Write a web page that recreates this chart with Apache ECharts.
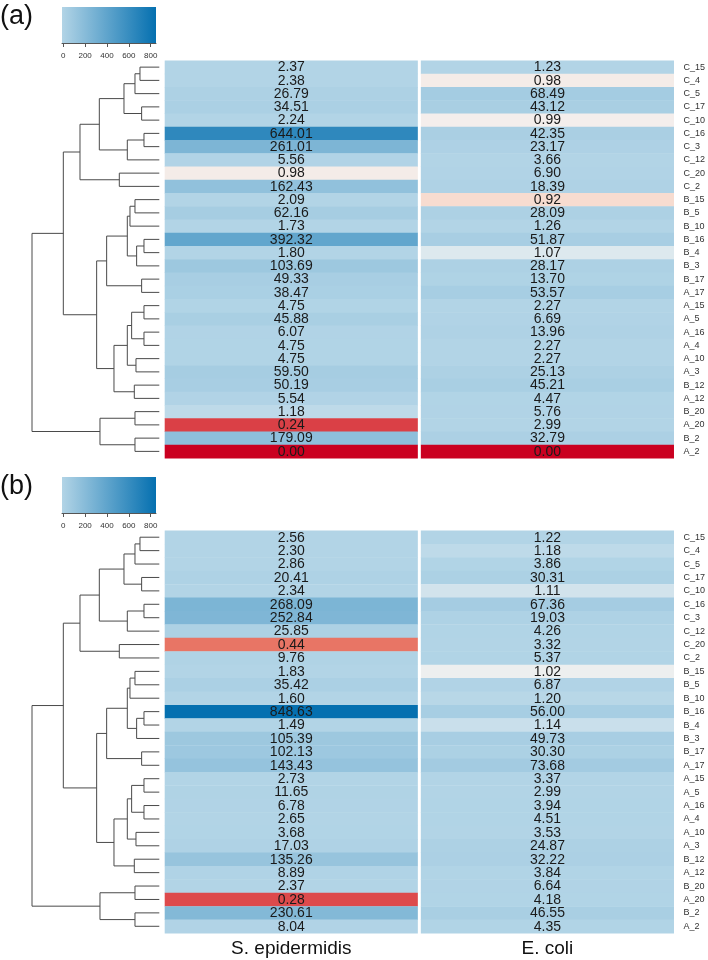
<!DOCTYPE html>
<html><head><meta charset="utf-8">
<script src="https://cdn.jsdelivr.net/npm/echarts@6/dist/echarts.min.js"></script>
<style>html,body{margin:0;padding:0;background:#fff}#c{width:708px;height:960px}</style>
</head><body><div id="c"></div>
<script>
// ---------- DATA ----------
const rowNames = ['C_15','C_4','C_5','C_17','C_10','C_16','C_3','C_12','C_20','C_2',
  'B_15','B_5','B_10','B_16','B_4','B_3','B_17','A_17','A_15','A_5',
  'A_16','A_4','A_10','A_3','B_12','A_12','B_20','A_20','B_2','A_2'];
const colNames = ['S. epidermidis', 'E. coli'];
const panelLabels = ['(a)', '(b)'];

const sepiA = [2.37,2.38,26.79,34.51,2.24,644.01,261.01,5.56,0.98,162.43,
  2.09,62.16,1.73,392.32,1.80,103.69,49.33,38.47,4.75,45.88,
  6.07,4.75,4.75,59.50,50.19,5.54,1.18,0.24,179.09,0.00];
const ecoliA = [1.23,0.98,68.49,43.12,0.99,42.35,23.17,3.66,6.90,18.39,
  0.92,28.09,1.26,51.87,1.07,28.17,13.70,53.57,2.27,6.69,
  13.96,2.27,2.27,25.13,45.21,4.47,5.76,2.99,32.79,0.00];
const sepiB = [2.56,2.30,2.86,20.41,2.34,268.09,252.84,25.85,0.44,9.76,
  1.83,35.42,1.60,848.63,1.49,105.39,102.13,143.43,2.73,11.65,
  6.78,2.65,3.68,17.03,135.26,8.89,2.37,0.28,230.61,8.04];
const ecoliB = [1.22,1.18,3.86,30.31,1.11,67.36,19.03,4.26,3.32,5.37,
  1.02,6.87,1.20,56.00,1.14,49.73,30.30,73.68,3.37,2.99,
  3.94,4.51,3.53,24.87,32.22,3.84,6.64,4.18,46.55,4.35];

const colorbarTicks = [0, 200, 400, 600, 800];
const colorbarDomain = [-12, 849];

// dendrogram merges: [child1, child2, height] (children are leaf names or merge refs 'mK', 1-based)
const dendroMerges = [
  ['C_15','C_4',58], ['m1','C_5',73], ['C_17','C_10',53], ['m2','m3',106],
  ['C_16','C_3',46], ['m5','C_12',96], ['m4','m6',180], ['C_20','C_2',120],
  ['m7','m8',238], ['B_15','B_5',73], ['m10','B_10',88], ['B_16','B_4',46],
  ['m12','B_3',68], ['m11','m13',96], ['B_17','A_17',53], ['m14','m15',158],
  ['A_15','A_5',46], ['A_16','A_4',46], ['m17','m18',83], ['A_10','A_3',70],
  ['m19','m20',96], ['B_12','A_12',75], ['m21','m22',136], ['m16','m23',188],
  ['m9','m24',288], ['B_20','A_20',73], ['B_2','A_2',73], ['m26','m27',178],
  ['m25','m28',382]
];
const dendroMaxHeight = 382;

// ---------- COLOUR SCALE ----------
const colorStops = [
  [0, [202,0,32]], [0.44, [232,117,101]], [0.92, [247,220,208]], [1.0, [243,241,240]],
  [1.07, [221,233,238]], [1.14, [201,223,235]], [1.22, [178,212,230]], [850, [5,112,176]]
];
function colorOf(v){
  if (v <= colorStops[0][0]) return rgb(colorStops[0][1]);
  for (let i = 1; i < colorStops.length; i++){
    if (v <= colorStops[i][0]){
      const [a0, c0] = colorStops[i-1], [a1, c1] = colorStops[i];
      const t = (v - a0) / (a1 - a0);
      return rgb(c0.map((x, k) => x + (c1[k] - x) * t));
    }
  }
  return rgb(colorStops[colorStops.length-1][1]);
}
function rgb(c){ return 'rgb(' + c.map(x => Math.round(x)).join(',') + ')'; }

// ---------- DENDROGRAM GEOMETRY (from leaf order) ----------
const nodes = [];
(function(){
  const pos = {};
  rowNames.forEach((n, i) => pos[n] = {y: i, h: 0});
  dendroMerges.forEach((m, k) => {
    const c1 = pos[m[0]], c2 = pos[m[1]];
    const node = {y: (c1.y + c2.y) / 2, h: m[2], c1: c1, c2: c2};
    pos['m' + (k + 1)] = node;
    nodes.push(node);
  });
})();

// ---------- LAYOUT ----------
const panels = [
  {cbTop: 7, top: 60.5, bottom: 458, sepi: sepiA, ecoli: ecoliA, showCols: false},
  {cbTop: 477, top: 530.5, bottom: 933, sepi: sepiB, ecoli: ecoliB, showCols: true}
];
const FONT = 'Liberation Sans, Arial, sans-serif';

const grid = [], xAxis = [], yAxis = [], series = [], title = [];

panels.forEach((p, pi) => {
  const g0 = grid.length;
  grid.push({left: 62, width: 94, top: p.cbTop, height: 36});
  grid.push({left: 32, width: 127.3, top: p.top, height: p.bottom - p.top});
  grid.push({left: 163.2, width: 515.3, top: p.top, height: p.bottom - p.top});

  xAxis.push({gridIndex: g0, type: 'value', min: colorbarDomain[0], max: colorbarDomain[1],
    position: 'bottom', splitLine: {show: false},
    axisLine: {show: true, lineStyle: {color: '#555', width: 1}},
    axisTick: {show: true, customValues: colorbarTicks, length: 4, lineStyle: {color: '#555'}},
    axisLabel: {customValues: colorbarTicks, fontSize: 8, color: '#333', margin: 9, fontFamily: FONT}});
  yAxis.push({gridIndex: g0, type: 'value', min: 0, max: 1, show: false});

  xAxis.push({gridIndex: g0 + 1, type: 'value', min: 0, max: dendroMaxHeight, inverse: true, show: false});
  yAxis.push({gridIndex: g0 + 1, type: 'value', min: -0.5, max: rowNames.length - 0.5, inverse: true, show: false});

  xAxis.push({gridIndex: g0 + 2, type: 'category', data: colNames, position: 'bottom',
    axisLine: {show: false}, axisTick: {show: false},
    axisLabel: {show: p.showCols, fontSize: 19, color: '#111', margin: 6, fontFamily: FONT}});
  yAxis.push({gridIndex: g0 + 2, type: 'category', data: rowNames, inverse: true, position: 'right',
    axisLine: {show: false}, axisTick: {show: false},
    axisLabel: {fontSize: 9, color: '#333', margin: 8, fontFamily: FONT}});

  series.push({type: 'custom', xAxisIndex: g0, yAxisIndex: g0, silent: true,
    data: [[colorbarDomain[0], colorbarDomain[1]]],
    renderItem: function(params, api){
      const a = api.coord([api.value(0), 1]), b = api.coord([api.value(1), 0]);
      return {type: 'rect', shape: {x: a[0], y: a[1], width: b[0] - a[0], height: b[1] - a[1]},
        style: {fill: new echarts.graphic.LinearGradient(0, 0, 1, 0, [
          {offset: 0, color: colorOf(1.22)}, {offset: 1, color: colorOf(colorbarDomain[1])}])}};
    }});

  series.push({type: 'custom', xAxisIndex: g0 + 1, yAxisIndex: g0 + 1, silent: true, clip: false,
    data: nodes.map(n => [n.h, n.y]),
    renderItem: function(params, api){
      const n = nodes[params.dataIndex];
      const pts = [api.coord([n.c1.h, n.c1.y]), api.coord([n.h, n.c1.y]),
                   api.coord([n.h, n.c2.y]), api.coord([n.c2.h, n.c2.y])];
      return {type: 'polyline', shape: {points: pts}, style: {stroke: '#4a4a4a', lineWidth: 1, fill: null}};
    }});

  const cells = [];
  rowNames.forEach((r, i) => { cells.push([0, i, p.sepi[i]]); cells.push([1, i, p.ecoli[i]]); });
  series.push({type: 'custom', xAxisIndex: g0 + 2, yAxisIndex: g0 + 2, silent: true,
    data: cells,
    renderItem: function(params, api){
      const v = api.value(2);
      const c = api.coord([api.value(0), api.value(1)]);
      const s = api.size([1, 1]);
      const inset = 1.5;
      return {type: 'group', children: [
        {type: 'rect', shape: {x: c[0] - s[0] / 2 + inset, y: c[1] - s[1] / 2, width: s[0] - 2 * inset, height: s[1] + 0.4},
          style: {fill: colorOf(v)}},
        {type: 'text', style: {text: v.toFixed(2), x: c[0], y: c[1] + 0.5, align: 'center', verticalAlign: 'middle',
          fontSize: 14, fontFamily: FONT, fill: '#1a1a1a'}}
      ]};
    }});

  title.push({text: panelLabels[pi], left: 0, top: p.cbTop - 4, padding: 0,
    textStyle: {fontSize: 27, fontWeight: 'normal', color: '#111', fontFamily: FONT}});
});

const chart = echarts.init(document.getElementById('c'), null, {renderer: 'canvas'});
chart.setOption({animation: false, backgroundColor: '#fff', title, grid, xAxis, yAxis, series});
</script>
</body></html>
